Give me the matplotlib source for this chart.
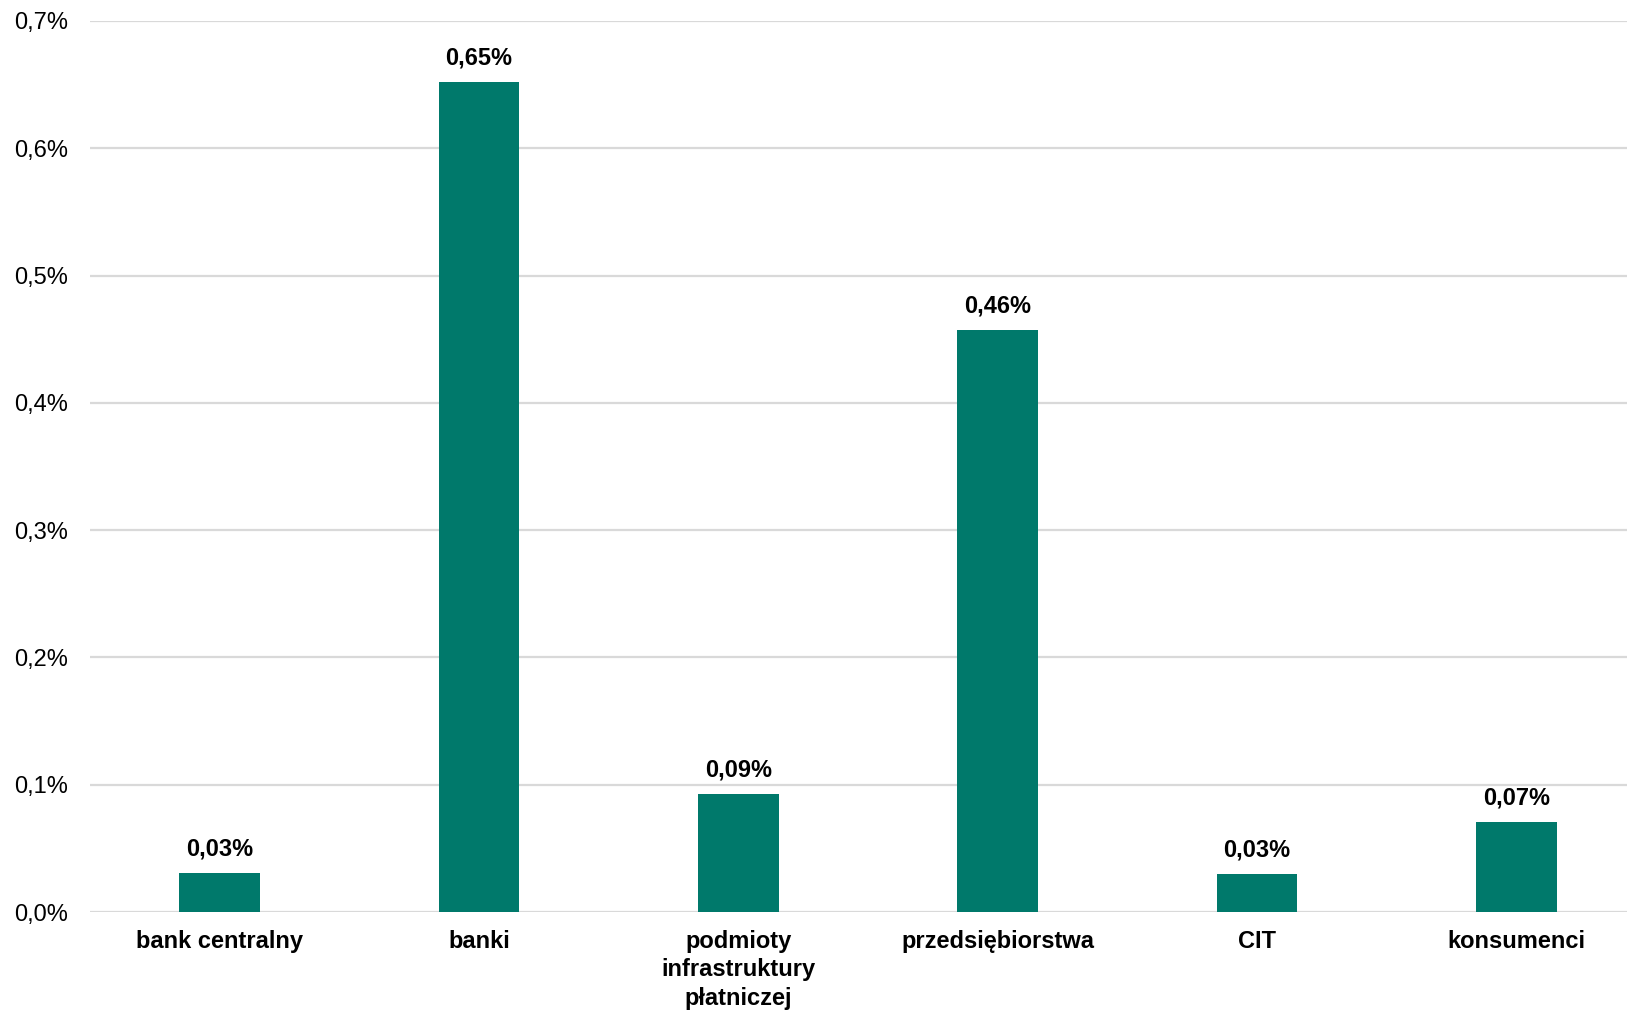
import matplotlib
matplotlib.use("Agg")
import matplotlib.pyplot as plt
from matplotlib.ticker import FuncFormatter

categories = ["bank centralny", "banki", "podmioty\ninfrastruktury\npłatniczej",
              "przedsiębiorstwa", "CIT", "konsumenci"]
values = [0.031, 0.652, 0.093, 0.457, 0.030, 0.071]
value_labels = ["0,03%", "0,65%", "0,09%", "0,46%", "0,03%", "0,07%"]
yticks = [0.0, 0.1, 0.2, 0.3, 0.4, 0.5, 0.6, 0.7]

plt.rcParams['font.family'] = ['Liberation Sans', 'DejaVu Sans']

W, H = 1627, 1010
fig = plt.figure(figsize=(W / 100, H / 100), dpi=100)
left, right = 90, 1646
bottom, top = 912, 21
ax = fig.add_axes([left / W, 1 - bottom / H, (right - left) / W, (bottom - top) / H])

x = list(range(len(categories)))
ax.bar(x, values, width=0.31, color="#00796B", zorder=3)
ax.set_xlim(-0.5, len(categories) - 0.5)
ax.set_ylim(0, 0.7)
ax.set_yticks(yticks)
ax.yaxis.set_major_formatter(FuncFormatter(lambda v, p: f"{v:.1f}%".replace(".", ",")))
ax.grid(axis="y", color="#D9D9D9", linewidth=1.6, zorder=0)
ax.set_axisbelow(True)
for s in ax.spines.values():
    s.set_visible(False)
ax.tick_params(axis="y", length=0, pad=16, labelsize=17)
ax.tick_params(axis="x", length=0, pad=13, labelsize=17)
ax.set_xticks(x)
ax.set_xticklabels(categories, fontweight="bold", linespacing=1.3)

for xi, v, lab in zip(x, values, value_labels):
    ax.annotate(lab, (xi, v), xytext=(0, 9), textcoords="offset points",
                ha="center", va="bottom", fontsize=17, fontweight="bold")

fig.savefig("out.png", dpi=100)
